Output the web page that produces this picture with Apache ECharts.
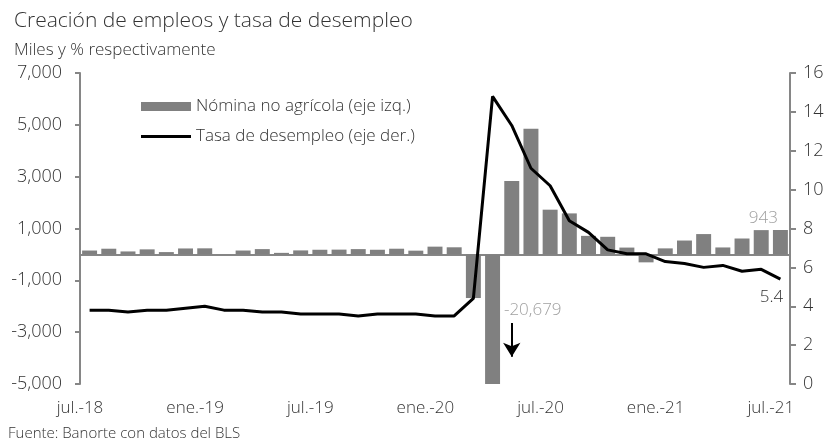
<!DOCTYPE html>
<html>
<head>
<meta charset="utf-8">
<script src="https://cdn.jsdelivr.net/npm/echarts@6/dist/echarts.min.js"></script>
<style>
html,body{margin:0;padding:0;background:#fff;}
#c{width:830px;height:444px;}
</style>
</head>
<body>
<div id="c"></div>
<script>
var categories = ['2018-07','2018-08','2018-09','2018-10','2018-11','2018-12',
  '2019-01','2019-02','2019-03','2019-04','2019-05','2019-06','2019-07','2019-08','2019-09','2019-10','2019-11','2019-12',
  '2020-01','2020-02','2020-03','2020-04','2020-05','2020-06','2020-07','2020-08','2020-09','2020-10','2020-11','2020-12',
  '2021-01','2021-02','2021-03','2021-04','2021-05','2021-06','2021-07'];
var payrolls = [150, 220, 115, 195, 90, 230,
  235, 5, 150, 205, 60, 155, 180, 185, 205, 180, 220, 145,
  300, 275, -1683, -20679, 2833, 4846, 1726, 1583, 716, 680, 264, -306,
  233, 536, 785, 269, 614, 938, 943];
var unemployment = [3.8, 3.8, 3.7, 3.8, 3.8, 3.9,
  4.0, 3.8, 3.8, 3.7, 3.7, 3.6, 3.6, 3.6, 3.5, 3.6, 3.6, 3.6,
  3.5, 3.5, 4.4, 14.8, 13.3, 11.1, 10.2, 8.4, 7.8, 6.9, 6.7, 6.7,
  6.3, 6.2, 6.0, 6.1, 5.8, 5.9, 5.4];
var xTickLabels = ['jul.-18','ene.-19','jul.-19','ene.-20','jul.-20','ene.-21','jul.-21'];
var leftTicks = {min: -5000, max: 7000, interval: 2000};
var rightTicks = {min: 0, max: 16, interval: 2};

var FONT = '"Open Sans"';
var FW = 300;
var AX = '#868686';
var TXT = '#333333';

function fmtThousands(v){
  var s = Math.abs(v).toString().replace(/\B(?=(\d{3})+(?!\d))/g, ',');
  return (v < 0 ? '-' : '') + s;
}

var chart = echarts.init(document.getElementById('c'), null, {renderer:'canvas'});
var last = categories.length - 1;
var option = {
  backgroundColor: '#fff',
  animation: false,
  textStyle: {fontFamily: FONT},
  title: [
    {text: 'Creación de empleos y tasa de desempleo', left: 9, top: 6,
     textStyle: {fontFamily: FONT, fontWeight: FW, fontSize: 21, color: TXT}},
    {text: 'Miles y % respectivamente', left: 9, top: 37,
     textStyle: {fontFamily: FONT, fontWeight: FW, fontSize: 17, color: TXT}},
    {text: 'Fuente: Banorte con datos del BLS', left: 3, top: 421,
     textStyle: {fontFamily: FONT, fontWeight: FW, fontSize: 15, color: TXT}}
  ],
  legend: {
    orient: 'vertical', left: 136, top: 93, itemWidth: 50, itemHeight: 9, itemGap: 13,
    textStyle: {fontFamily: FONT, fontWeight: FW, fontSize: 17, color: TXT},
    data: [
      {name: 'Nómina no agrícola (eje izq.)', icon: 'rect'},
      {name: 'Tasa de desempleo (eje der.)', icon: 'path://M0,0L50,0L50,3L0,3Z'}
    ]
  },
  grid: {left: 80, right: 40, top: 73, bottom: 60},
  xAxis: [
    {type: 'category', data: categories, boundaryGap: true,
     axisLine: {onZero: true, onZeroAxisIndex: 0, lineStyle: {color: AX, width: 2}},
     axisTick: {interval: 5, length: 5, lineStyle: {color: AX, width: 2}},
     axisLabel: {show: false}, splitLine: {show: false}},
    {type: 'value', min: 0, max: categories.length, interval: 6, position: 'bottom',
     axisLine: {show: false, onZero: false}, axisTick: {show: false}, splitLine: {show: false},
     axisLabel: {margin: 16, fontFamily: FONT, fontWeight: FW, fontSize: 17, color: TXT,
       showMaxLabel: false,
       formatter: function(v){ return (v % 6 === 0 && xTickLabels[v/6]) ? xTickLabels[v/6] : ''; }}}
  ],
  yAxis: [
    {type: 'value', min: leftTicks.min, max: leftTicks.max, interval: leftTicks.interval,
     axisLine: {show: true, lineStyle: {color: AX, width: 2}},
     axisTick: {show: true, length: 5, lineStyle: {color: AX, width: 2}},
     splitLine: {show: false},
     axisLabel: {margin: 18, fontFamily: FONT, fontWeight: FW, fontSize: 18, color: TXT, formatter: fmtThousands}},
    {type: 'value', min: rightTicks.min, max: rightTicks.max, interval: rightTicks.interval, position: 'right',
     axisLine: {show: true, lineStyle: {color: AX, width: 2}},
     axisTick: {show: true, length: 6, lineStyle: {color: AX, width: 2}},
     splitLine: {show: false},
     axisLabel: {margin: 13, fontFamily: FONT, fontWeight: FW, fontSize: 18, color: TXT}}
  ],
  series: [
    {name: 'Nómina no agrícola (eje izq.)', type: 'bar', xAxisIndex: 0, yAxisIndex: 0,
     data: payrolls.map(function(v, i){
       if (i === last) return {value: v, label: {show: true, position: 'top', distance: 3, offset: [-17, 0],
         color: '#a0a0a0', fontFamily: FONT, fontWeight: FW, fontSize: 17}};
       return v; }),
     barCategoryGap: '22%', clip: true,
     itemStyle: {color: '#808080'},
     markPoint: {symbol: 'circle', symbolSize: 0,
       data: [{coord: ['2020-05', -2150], value: payrolls[21],
         label: {show: true, formatter: fmtThousands(payrolls[21]), offset: [21, 0],
           color: '#a0a0a0', fontFamily: FONT, fontWeight: FW, fontSize: 17}}]},
     markLine: {silent: true, symbol: ['none', 'arrow'], symbolSize: [13, 14],
       lineStyle: {color: '#000', width: 2, type: 'solid'},
       label: {show: false},
       data: [[{coord: ['2020-05', -2650]}, {coord: ['2020-05', -3950]}]]}
    },
    {name: 'Tasa de desempleo (eje der.)', type: 'line', xAxisIndex: 0, yAxisIndex: 1,
     data: unemployment,
     symbol: 'none', showSymbol: false,
     lineStyle: {color: '#000', width: 3}, itemStyle: {color: '#000'},
     markPoint: {symbol: 'circle', symbolSize: 0,
       data: [{coord: [categories[last], unemployment[last]], value: unemployment[last],
         label: {show: true, formatter: String(unemployment[last]), offset: [-9, 18],
           color: TXT, fontFamily: FONT, fontWeight: FW, fontSize: 17}}]}}
  ]
};
chart.setOption(option);
</script>
</body>
</html>
